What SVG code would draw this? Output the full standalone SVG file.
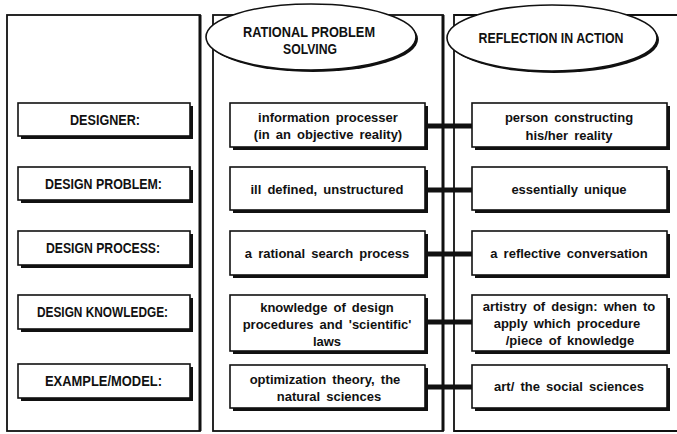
<svg xmlns="http://www.w3.org/2000/svg" width="677" height="434" viewBox="0 0 677 434">
<style>
.panel{fill:none;stroke:#111;stroke-width:1.8}
.thick{stroke:#111;stroke-width:3}
.sh{fill:#111}
.bx{fill:#fff;stroke:#111;stroke-width:1.6}
.lbl{font-family:"Liberation Sans",Arial,sans-serif;font-size:14px;font-weight:bold;fill:#111;text-anchor:middle}
.txt{font-family:"Liberation Sans",Arial,sans-serif;font-size:13px;font-weight:bold;word-spacing:2.5px;fill:#111;text-anchor:middle}
.conn{stroke:#111;stroke-width:5}
</style>
<rect width="677" height="434" fill="#fff"/>
<g id="panels">
<rect class="panel" x="7" y="15" width="193" height="416"/>
<line class="thick" x1="200" y1="15" x2="200" y2="431"/>
<rect class="panel" x="213" y="15" width="230" height="416"/>
<line class="thick" x1="443" y1="15" x2="443" y2="431"/>
<path class="panel" d="M677,15 H454 V431 H677"/>
</g>
<g id="connectors">
<line class="conn" x1="425" y1="126" x2="472" y2="126"/>
<line class="conn" x1="425" y1="190" x2="472" y2="190"/>
<line class="conn" x1="425" y1="254" x2="472" y2="254"/>
<line class="conn" x1="425" y1="322" x2="472" y2="322"/>
<line class="conn" x1="425" y1="387" x2="472" y2="387"/>
</g>
<g id="head-rps">
<ellipse class="sh" cx="313" cy="39" rx="105" ry="33"/>
<ellipse class="bx" cx="311" cy="37" rx="105" ry="33"/>
<text class="lbl" x="309" y="37" textLength="132" lengthAdjust="spacingAndGlyphs">RATIONAL PROBLEM</text>
<text class="lbl" x="310" y="54" textLength="54" lengthAdjust="spacingAndGlyphs">SOLVING</text>
</g>
<g id="head-ria">
<ellipse class="sh" cx="554" cy="40" rx="105" ry="33"/>
<ellipse class="bx" cx="552" cy="38" rx="105" ry="33"/>
<text class="lbl" x="551" y="43" textLength="145" lengthAdjust="spacingAndGlyphs">REFLECTION IN ACTION</text>
</g>
<g id="lbl-designer"><rect class="sh" x="21" y="106" width="172" height="33"/><rect class="bx" x="18" y="103" width="172" height="33"/><text class="lbl" x="105" y="125" textLength="70" lengthAdjust="spacingAndGlyphs">DESIGNER:</text></g>
<g id="lbl-problem"><rect class="sh" x="21" y="170" width="172" height="33"/><rect class="bx" x="18" y="167" width="172" height="33"/><text class="lbl" x="103.5" y="189" textLength="117" lengthAdjust="spacingAndGlyphs">DESIGN PROBLEM:</text></g>
<g id="lbl-process"><rect class="sh" x="21" y="234" width="172" height="34"/><rect class="bx" x="18" y="231" width="172" height="34"/><text class="lbl" x="103" y="253" textLength="114" lengthAdjust="spacingAndGlyphs">DESIGN PROCESS:</text></g>
<g id="lbl-knowledge"><rect class="sh" x="21" y="298" width="172" height="34"/><rect class="bx" x="18" y="295" width="172" height="34"/><text class="lbl" x="102.5" y="317" textLength="131" lengthAdjust="spacingAndGlyphs">DESIGN KNOWLEDGE:</text></g>
<g id="lbl-example"><rect class="sh" x="21" y="367" width="172" height="34"/><rect class="bx" x="18" y="364" width="172" height="34"/><text class="lbl" x="103.5" y="386" textLength="117" lengthAdjust="spacingAndGlyphs">EXAMPLE/MODEL:</text></g>
<g id="rps-designer"><rect class="sh" x="233" y="106" width="195" height="44"/><rect class="bx" x="230" y="103" width="195" height="44"/><text class="txt" x="328" y="122">information processer</text><text class="txt" x="328" y="139">(in an objective reality)</text></g>
<g id="rps-problem"><rect class="sh" x="233" y="170" width="195" height="43"/><rect class="bx" x="230" y="167" width="195" height="43"/><text class="txt" x="327" y="194">ill defined, unstructured</text></g>
<g id="rps-process"><rect class="sh" x="233" y="234" width="195" height="44"/><rect class="bx" x="230" y="231" width="195" height="44"/><text class="txt" x="327" y="258">a rational search process</text></g>
<g id="rps-knowledge"><rect class="sh" x="233" y="298" width="195" height="56"/><rect class="bx" x="230" y="295" width="195" height="56"/><text class="txt" x="327" y="312">knowledge of design</text><text class="txt" x="327" y="329">procedures and 'scientific'</text><text class="txt" x="327" y="346">laws</text></g>
<g id="rps-example"><rect class="sh" x="233" y="368" width="195" height="43"/><rect class="bx" x="230" y="365" width="195" height="43"/><text class="txt" x="325" y="384">optimization theory, the</text><text class="txt" x="329" y="401">natural sciences</text></g>
<g id="ria-designer"><rect class="sh" x="475" y="106" width="195" height="44"/><rect class="bx" x="472" y="103" width="195" height="44"/><text class="txt" x="569" y="122">person constructing</text><text class="txt" x="569" y="140">his/her reality</text></g>
<g id="ria-problem"><rect class="sh" x="475" y="170" width="195" height="43"/><rect class="bx" x="472" y="167" width="195" height="43"/><text class="txt" x="569" y="194">essentially unique</text></g>
<g id="ria-process"><rect class="sh" x="475" y="234" width="195" height="44"/><rect class="bx" x="472" y="231" width="195" height="44"/><text class="txt" x="569" y="258">a reflective conversation</text></g>
<g id="ria-knowledge"><rect class="sh" x="475" y="298" width="195" height="56"/><rect class="bx" x="472" y="295" width="195" height="56"/><text class="txt" x="569" y="311">artistry of design: when to</text><text class="txt" x="567" y="328">apply which procedure</text><text class="txt" x="570" y="345">/piece of knowledge</text></g>
<g id="ria-example"><rect class="sh" x="475" y="368" width="195" height="43"/><rect class="bx" x="472" y="365" width="195" height="43"/><text class="txt" x="569" y="391">art/ the social sciences</text></g>
</svg>
